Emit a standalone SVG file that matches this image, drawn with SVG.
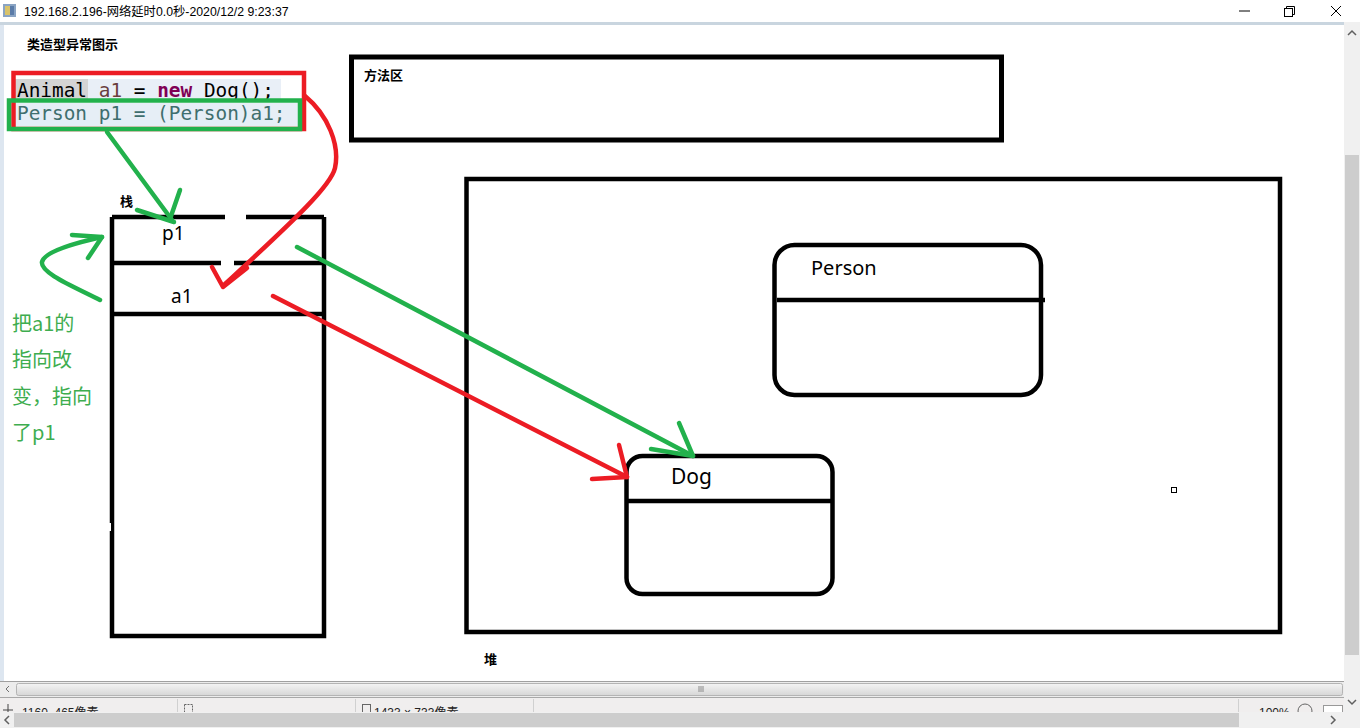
<svg xmlns="http://www.w3.org/2000/svg" width="1360" height="728" viewBox="0 0 1360 728">
<defs>
<style>
.blk{fill:none;stroke:#000;stroke-width:4.5}
.red{fill:none;stroke:#ec1c24;stroke-width:4.5;stroke-linecap:round;stroke-linejoin:round}
.grn{fill:none;stroke:#22b14c;stroke-width:4.5;stroke-linecap:round;stroke-linejoin:round}
.lbl{font-family:"Noto Sans","Liberation Sans",sans-serif;fill:#000}
.cjk{font-family:"Noto Sans CJK SC","Noto Sans",sans-serif;font-weight:bold;font-size:13px;fill:#000}
.code{font-family:"DejaVu Sans Mono","Liberation Mono",monospace;font-size:19.4px}
.note{font-family:"Noto Sans CJK SC","Noto Sans",sans-serif;font-size:20px;fill:#3ead4f}
.ui{font-family:"Liberation Sans","Noto Sans CJK SC",sans-serif;font-size:12px;fill:#222}
.chev{fill:none;stroke:#606060;stroke-width:1.5}
</style>
<clipPath id="sbclip"><rect x="0" y="699" width="1343" height="13"/></clipPath>
<linearGradient id="thumb" x1="0" y1="0" x2="0" y2="1">
<stop offset="0" stop-color="#f4f4f4"/><stop offset="1" stop-color="#d6d6d6"/>
</linearGradient>
</defs>

<!-- window chrome -->
<g id="chrome">
<rect x="0" y="0" width="1360" height="728" fill="#fff"/>
<rect x="3" y="4" width="13" height="13" fill="#8aa4c4"/>
<rect x="5" y="6" width="5" height="9" fill="#d9c36a"/>
<rect x="10" y="6" width="4" height="9" fill="#5a7ba8"/>
<text class="ui" x="24" y="16" style="font-size:12.3px;fill:#000">192.168.2.196-网络延时0.0秒-2020/12/2 9:23:37</text>
<line x1="1239" y1="11" x2="1250" y2="11" stroke="#000" stroke-width="1"/>
<rect x="1284.5" y="8.5" width="8" height="8" fill="none" stroke="#000" stroke-width="1"/>
<path d="M1286.5 8.5 V6.5 H1294.5 V14.5 H1292.5" fill="none" stroke="#000" stroke-width="1"/>
<path d="M1331 6 L1341 16 M1341 6 L1331 16" stroke="#000" stroke-width="1"/>
<rect x="0" y="22" width="1344" height="3" fill="#c9d5df"/>
<rect x="0" y="25" width="4" height="656" fill="#dde6f0"/>
<!-- outer vertical scrollbar -->
<rect x="1344" y="22" width="16" height="690" fill="#f0f0f0"/>
<rect x="1345" y="155" width="14" height="500" fill="#cdcdcd"/>
<path class="chev" d="M1348 35 L1352 31 L1356 35"/>
<path class="chev" d="M1348 700 L1352 704 L1356 700"/>
<!-- inner horizontal scrollbar -->
<rect x="0" y="681" width="1344" height="16" fill="#ececec"/>
<line x1="0" y1="681.5" x2="1344" y2="681.5" stroke="#a0a0a0"/>
<rect x="16.5" y="683.5" width="1326" height="12" rx="2" fill="url(#thumb)" stroke="#b4b4b4"/>
<path d="M9 686 L6 689 L9 692" fill="none" stroke="#707070"/>
<path d="M699 686 V692 M701 686 V692 M703 686 V692" stroke="#8a8a8a"/>
<line x1="0" y1="697.5" x2="1344" y2="697.5" stroke="#a8a8a8"/>
<!-- status bar -->
<rect x="0" y="698" width="1344" height="14" fill="#f0eeee"/>
<line x1="177.5" y1="699" x2="177.5" y2="712" stroke="#d0d0d0"/>
<line x1="355.5" y1="699" x2="355.5" y2="712" stroke="#d0d0d0"/>
<line x1="533.5" y1="699" x2="533.5" y2="712" stroke="#d0d0d0"/>
<line x1="1238.5" y1="699" x2="1238.5" y2="712" stroke="#d0d0d0"/>
<g clip-path="url(#sbclip)">
<path d="M8 704 V716 M3 710 H13" stroke="#444"/>
<text class="ui" x="22" y="717">1160, 465像素</text>
<rect x="184.5" y="704.5" width="8" height="8" fill="none" stroke="#666" stroke-dasharray="2 1"/>
<rect x="362.5" y="704.5" width="8" height="8" fill="none" stroke="#666"/>
<text class="ui" x="374" y="717">1433 × 733像素</text>
<text class="ui" x="1259" y="717">100%</text>
<circle cx="1305" cy="711" r="7" fill="none" stroke="#666"/>
<rect x="1323.5" y="705.5" width="19" height="10" fill="#fff" stroke="#999"/>
</g>
<!-- outer horizontal scrollbar -->
<rect x="0" y="712" width="1360" height="16" fill="#f0f0f0"/>
<rect x="14" y="713" width="1225" height="14" fill="#cdcdcd"/>
<path class="chev" d="M9 716 L5 720 L9 724"/>
<path class="chev" d="M1331 716 L1335 720 L1331 724"/>
</g>

<!-- titles -->
<g id="title">
<text class="cjk" x="27" y="49">类造型异常图示</text>
</g>

<!-- code -->
<g id="code">
<rect x="15" y="79" width="73" height="21" fill="#d4d4d4"/>
<rect x="88" y="79" width="193" height="21" fill="#e9eff7"/>
<rect x="11" y="103" width="287" height="23" fill="#e6eef6"/>
<text class="code" y="97">
<tspan x="17" fill="#000">Animal</tspan>
<tspan x="98.8" fill="#6a3e3e">a1</tspan>
<tspan x="133.8" fill="#000">=</tspan>
<tspan x="157.2" fill="#7f0055" font-weight="bold">new</tspan>
<tspan x="203.9" fill="#000">Dog();</tspan>
</text>
<text class="code" x="17" y="120" fill="#3f6e6e">Person p1 = (Person)a1;</text>
<rect x="13.5" y="73" width="290.5" height="56" fill="none" stroke="#ec1c24" stroke-width="4.5"/>
<rect x="9" y="100.5" width="291" height="28.5" fill="none" stroke="#22b14c" stroke-width="4.5"/>
</g>

<!-- method area -->
<g id="method-area">
<rect x="351.5" y="57" width="650" height="83" fill="none" stroke="#000" stroke-width="5"/>
<text class="cjk" x="364" y="80">方法区</text>
</g>

<!-- stack -->
<g id="stack">
<text class="cjk" x="120" y="206">栈</text>
<path class="blk" d="M112 217 H225 M246 217 H324 M112 217 V636 H324 V217 M112 263 H221 M234 263 H324 M112 314 H324"/>
<rect x="107" y="523" width="4" height="8" fill="#fff"/>
<text class="lbl" x="162" y="240" style="font-size:19px">p1</text>
<text class="lbl" x="171" y="303" style="font-size:19px">a1</text>
</g>

<!-- heap -->
<g id="heap">
<rect x="466.5" y="179" width="813.5" height="453" class="blk"/>
<text class="cjk" x="484" y="664">堆</text>
<rect x="1171.5" y="487.5" width="5" height="5" fill="none" stroke="#000" stroke-width="1"/>
</g>

<g id="person">
<rect x="774.5" y="245" width="266.5" height="150" rx="20" class="blk"/>
<line x1="777" y1="300" x2="1045" y2="300" stroke="#000" stroke-width="4.5"/>
<text class="lbl" x="811" y="275" style="font-size:20px">Person</text>
</g>

<g id="dog">
<rect x="626.5" y="456" width="206" height="138" rx="16" class="blk"/>
<line x1="626" y1="501" x2="832" y2="501" stroke="#000" stroke-width="4.5"/>
<text class="lbl" x="671" y="484" style="font-size:21px">Dog</text>
</g>

<!-- green note -->
<g id="note">
<text class="note" x="12" y="331">把a1的</text>
<text class="note" x="12" y="367">指向改</text>
<text class="note" x="12" y="404">变，指向</text>
<text class="note" x="12" y="440">了p1</text>
</g>

<!-- connectors -->
<g id="connectors">
<path class="red" d="M305 96 C328 115 340 145 335 168 C331 185 300 215 224 285"/>
<path class="red" d="M212 267 L223 287 L247 268"/>
<path class="grn" d="M107 132 L172 220"/>
<path class="grn" d="M180 190 L170 219 M137 210 L174 222"/>
<path class="grn" d="M100 300 C75 287 40 273 42 262 C44 252 75 243 102 237"/>
<path class="grn" d="M72 235 L102 237 L88 258"/>
<path class="grn" d="M297 247 L693 456"/>
<path class="grn" d="M679 423 L693 456 L651 449"/>
<path class="red" d="M273 296 L627 477"/>
<path class="red" d="M619 445 L627 477 L592 479"/>
</g>
</svg>
